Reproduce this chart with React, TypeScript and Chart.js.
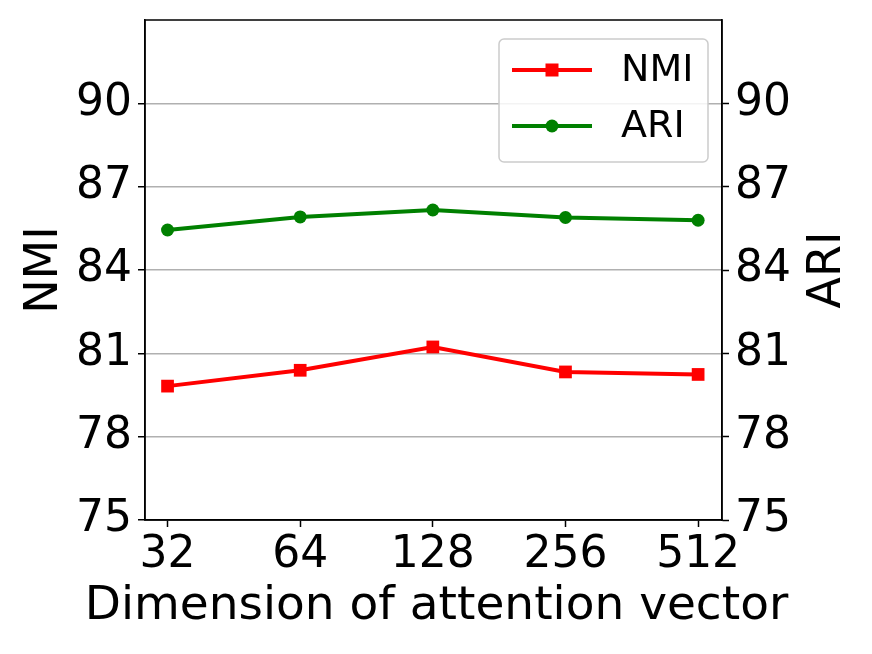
import React, { useEffect, useRef } from "react";
import { Chart, registerables } from "chart.js";

Chart.register(...registerables);

const categories = ["32", "64", "128", "256", "512"];
const nmiValues = [79.82, 80.39, 81.23, 80.33, 80.24];
const ariValues = [85.44, 85.91, 86.16, 85.89, 85.79];
const yTicks = [75, 78, 81, 84, 87, 90];
const seriesNames = ["NMI", "ARI"];
const axisTitles = { x: "Dimension of attention vector", left: "NMI", right: "ARI" };

const FONT = "'DejaVu Sans', 'Liberation Sans', sans-serif";
const RED = "#ff0000";
const GREEN = "#008000";

const overlayPlugin = {
  id: "overlay",
  afterDraw(chart: any) {
    const { ctx, chartArea } = chart;
    const { left, right, top, bottom } = chartArea;
    ctx.save();
    // frame
    ctx.strokeStyle = "#000";
    ctx.lineWidth = 1.5;
    ctx.strokeRect(left, top, right - left, bottom - top);

    // legend
    const bx = right - 223, by = top + 19, bw = 209, bh = 123;
    ctx.fillStyle = "rgba(255,255,255,0.85)";
    ctx.strokeStyle = "#cccccc";
    ctx.lineWidth = 1.5;
    ctx.beginPath();
    (ctx as any).roundRect(bx, by, bw, bh, 5);
    ctx.fill();
    ctx.stroke();
    const rows = [
      { name: seriesNames[0], color: RED, style: "rect", y: by + 31 },
      { name: seriesNames[1], color: GREEN, style: "circle", y: by + 87 },
    ];
    ctx.font = `38px ${FONT}`;
    ctx.textBaseline = "middle";
    ctx.textAlign = "left";
    for (const r of rows) {
      ctx.strokeStyle = r.color;
      ctx.lineWidth = 4;
      ctx.beginPath();
      ctx.moveTo(bx + 13, r.y);
      ctx.lineTo(bx + 93, r.y);
      ctx.stroke();
      ctx.fillStyle = r.color;
      if (r.style === "rect") {
        ctx.fillRect(bx + 53 - 6.5, r.y - 6.5, 13, 13);
      } else {
        ctx.beginPath();
        ctx.arc(bx + 53, r.y, 6.5, 0, Math.PI * 2);
        ctx.fill();
      }
      ctx.fillStyle = "#000";
      ctx.fillText(r.name, bx + 122, r.y + 1);
    }

    // axis titles
    ctx.fillStyle = "#000";
    ctx.font = `47px ${FONT}`;
    ctx.textAlign = "center";
    ctx.textBaseline = "alphabetic";
    ctx.fillText(axisTitles.x, (left + right) / 2 + 3, bottom + 99);
    ctx.font = `46px ${FONT}`;
    const midY = (top + bottom) / 2;
    ctx.save();
    ctx.translate(57, midY);
    ctx.rotate(-Math.PI / 2);
    ctx.fillText(axisTitles.left, 0, 0);
    ctx.restore();
    ctx.save();
    ctx.translate(right + 118, midY);
    ctx.rotate(-Math.PI / 2);
    ctx.fillText(axisTitles.right, 0, 0);
    ctx.restore();
    ctx.restore();
  },
};

export default function App() {
  const ref = useRef<HTMLCanvasElement | null>(null);
  useEffect(() => {
    if (!ref.current) return;
    const tickFont = { family: FONT, size: 44 };
    const yScaleCommon = {
      type: "linear" as const,
      min: 75,
      max: 93,
      afterBuildTicks: (axis: any) => {
        axis.ticks = yTicks.map((v) => ({ value: v }));
      },
      ticks: { font: tickFont, color: "#000", padding: 6, callback: (v: any) => String(v) },
      border: { color: "#000", width: 1.5 },
    };
    const chart = new Chart(ref.current, {
      type: "line",
      data: {
        datasets: [
          {
            label: seriesNames[0],
            data: nmiValues.map((v, i) => ({ x: i, y: v })),
            borderColor: RED,
            backgroundColor: RED,
            borderWidth: 4,
            pointStyle: "rect",
            pointRadius: 9,
            pointHoverRadius: 9,
            pointBorderWidth: 0,
            yAxisID: "y",
          },
          {
            label: seriesNames[1],
            data: ariValues.map((v, i) => ({ x: i, y: v })),
            borderColor: GREEN,
            backgroundColor: GREEN,
            borderWidth: 4,
            pointStyle: "circle",
            pointRadius: 6.5,
            pointHoverRadius: 6.5,
            pointBorderWidth: 0,
            yAxisID: "y1",
          },
        ],
      },
      options: {
        responsive: false,
        animation: false,
        layout: { padding: { top: 20, left: 0, right: 0, bottom: 0 } },
        plugins: { legend: { display: false }, tooltip: { enabled: false } },
        scales: {
          x: {
            type: "linear",
            min: -0.17,
            max: 4.18,
            afterBuildTicks: (axis: any) => {
              axis.ticks = categories.map((_, i) => ({ value: i }));
            },
            afterFit: (s: any) => {
              s.height = 134;
              s.paddingLeft = 0;
              s.paddingRight = 0;
            },
            ticks: {
              font: tickFont,
              color: "#000",
              padding: 2,
              maxRotation: 0,
              autoSkip: false,
              callback: (v: any) => categories[v as number] ?? "",
            },
            grid: { drawOnChartArea: false, drawTicks: true, tickLength: 7, tickColor: "#000", tickWidth: 1.5 },
            border: { color: "#000", width: 1.5 },
          },
          y: {
            ...yScaleCommon,
            position: "left",
            afterFit: (s: any) => {
              s.width = 145;
              s.paddingTop = 0;
              s.paddingBottom = 0;
            },
            grid: { color: "#b0b0b0", lineWidth: 1.5, drawTicks: true, tickLength: 7, tickColor: "#000", tickWidth: 1.5 },
          },
          y1: {
            ...yScaleCommon,
            position: "right",
            afterFit: (s: any) => {
              s.width = 150;
              s.paddingTop = 0;
              s.paddingBottom = 0;
            },
            grid: { drawOnChartArea: false, drawTicks: true, tickLength: 7, tickColor: "#000", tickWidth: 1.5 },
          },
        },
      },
      plugins: [overlayPlugin],
    });
    return () => chart.destroy();
  }, []);
  return (
    <div style={{ position: "fixed", left: 0, top: 0, width: 872, height: 654, background: "#fff" }}>
      <canvas ref={ref} width={872} height={654} style={{ width: 872, height: 654 }} />
    </div>
  );
}
